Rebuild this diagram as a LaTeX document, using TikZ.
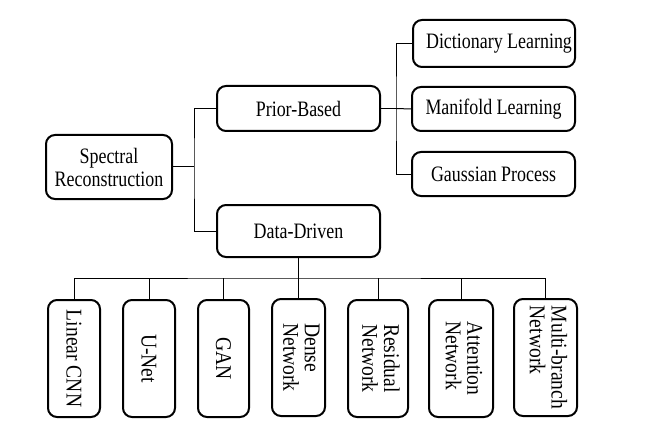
\documentclass[tikz,border=0pt]{standalone}
\usepackage{fontspec}
\setmainfont{Liberation Serif}[FakeStretch=0.87]
\newfontfamily\topfont{Liberation Serif}[FakeStretch=0.815]
\begin{document}
\begin{tikzpicture}[x=1pt,y=-1pt,
  box/.style={draw, line width=2pt, rounded corners=9pt, inner sep=0pt, align=center,
    font=\topfont\fontsize{22}{23}\selectfont},
  vbox/.style={draw, line width=2pt, rounded corners=9pt, inner sep=0pt,
    minimum height=117pt, font=\fontsize{22.5}{20}\selectfont},
  link/.style={line width=1pt}]
\useasboundingbox (0,0) rectangle (656,433);
% top level
\node[box, minimum width=126, minimum height=64] (sr) at (109,167) {Spectral\\Reconstruction};
\node[box, minimum width=163, minimum height=45] (pb) at (298.5,108.5) {Prior-Based};
\node[box, minimum width=163, minimum height=52] (dd) at (298.5,231) {Data-Driven};
% prior-based children
\node[box, minimum width=162, minimum height=47] (dl) at (494,43.5) {\hspace*{10pt}Dictionary Learning};
\node[box, minimum width=163, minimum height=44] (ml) at (493.5,109) {Manifold Learning};
\node[box, minimum width=163, minimum height=44] (gp) at (493.5,174) {Gaussian Process};
% data-driven children
\node[vbox, minimum width=52] (b1) at (74,358.5) {\rotatebox{-90}{Linear CNN}};
\node[vbox, minimum width=52] (b2) at (149,358.5) {\rotatebox{-90}{U-Net}};
\node[vbox, minimum width=51] (b3) at (223.5,358.5) {\rotatebox{-90}{GAN}};
\node[vbox, minimum width=53] (b4) at (298.5,357.5) {\rotatebox{-90}{\begin{tabular}{@{}l@{}}Dense\\Network\end{tabular}}};
\node[vbox, minimum width=60] (b5) at (378,358.5) {\rotatebox{-90}{\begin{tabular}{@{}l@{}}Residual\\Network\end{tabular}}};
\node[vbox, minimum width=64] (b6) at (461,358.5) {\rotatebox{-90}{\begin{tabular}{@{}l@{}}Attention\\Network\end{tabular}}};
\node[vbox, minimum width=63] (b7) at (545.5,357.5) {\rotatebox{-90}{\begin{tabular}{@{}l@{}}Multi-branch\\Network\end{tabular}}};
% junctions
\coordinate (j1) at (194,167);
\coordinate (j2) at (396,108.5);
\coordinate (j3) at (298.5,278);
% connectors
\draw[link] (sr.east) -- (j1);
\draw[link] (pb.west) -| (j1) |- (dd.west);
\draw[link] (pb.east) -- (j2);
\draw[link] (dl.west) -| (j2) |- (gp.west);
\draw[link] (j2) -- (ml.west);
\draw[link] (dd.south) -- (j3);
\draw[link] (b1.north) |- (j3) -| (b7.north);
\foreach \b in {b2,b3,b4,b5,b6}
  \draw[link] (\b.north) -- (\b.north |- j3);
\end{tikzpicture}
\end{document}
